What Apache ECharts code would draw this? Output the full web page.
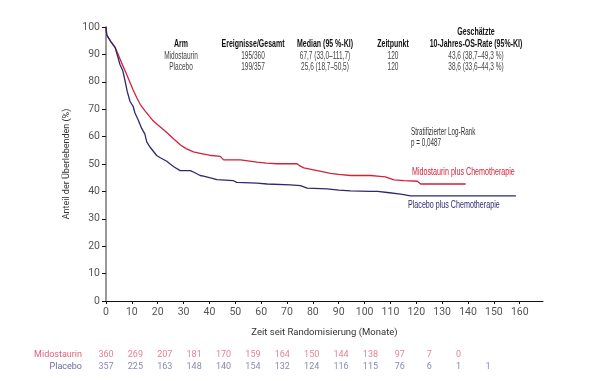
<!DOCTYPE html>
<html><head><meta charset="utf-8">
<script src="https://cdn.jsdelivr.net/npm/echarts@6/dist/echarts.min.js"></script>
<style>html,body{margin:0;padding:0;background:#fff}#c{width:595px;height:381px}</style>
</head><body><div id="c"></div>
<script>
// ---- data ----
const midoCurve = [[0,100],[0.3,97],[2,94.5],[3.5,92.6],[4.1,91.3],[6,87],[8,82.7],[10.5,77],[12,74],[13.2,71.8],[15,69.5],[18,66],[20,64.3],[23.5,61.5],[26,59.3],[28.7,57],[31,55.6],[33.8,54.4],[36.4,53.9],[40,53.2],[44.2,52.8],[45.5,51.5],[52,51.5],[58.4,50.7],[62,50.3],[66.2,50.1],[73.9,50.1],[75,49.3],[76.5,48.6],[81.7,47.6],[86.8,46.6],[90,46.2],[94.6,45.8],[102.3,45.8],[106,45.5],[108,45.3],[111.4,44.2],[115.3,43.9],[120.4,43.7],[121.7,42.7],[139.1,42.7]];
const placeboCurve = [[0,100],[0.3,97],[2,94.5],[3.5,92.6],[4.1,90.7],[5.4,86.3],[6.5,84],[7.4,80.2],[8.2,76.5],[9.3,72.8],[10.5,71],[11.2,68.6],[12.5,66],[13.8,63],[15,61],[15.8,58],[17,56.2],[19.6,53.1],[21,52.3],[23.5,51],[24.8,50],[26.5,48.8],[28.7,47.6],[32.6,47.6],[34,47],[36.4,45.8],[37.7,45.6],[40,45],[42.9,44.3],[49.3,43.9],[50.6,43.3],[58.4,43],[62.3,42.7],[71.3,42.4],[75.2,42.1],[77.8,41.2],[85.5,40.9],[90,40.5],[94.6,40.2],[102.3,40],[105,40],[108.8,39.6],[114,39],[117.8,38.4],[158.5,38.4]];
const riskRows = ['Midostaurin','Placebo'];
const riskMido = [360,269,207,181,170,159,164,150,144,138,97,7,0];
const riskPlacebo = [357,225,163,148,140,154,132,124,116,115,76,6,1,1];
const tableHeader = ['Arm','Ereignisse/Gesamt','Median (95 %-KI)','Zeitpunkt','10-Jahres-OS-Rate (95%-KI)'];
const tableHeaderTop = 'Geschätzte';
const tableMido = ['Midostaurin','195/360','67,7 (33,0–111,7)','120','43,6 (38,7–49,3 %)'];
const tablePlacebo = ['Placebo','199/357','25,6 (18,7–50,5)','120','38,6 (33,6–44,3 %)'];
const logRank = ['Stratifizierter Log-Rank','p = 0,0487'];
const curveLabels = ['Midostaurin plus Chemotherapie','Placebo plus Chemotherapie'];

// ---- style ----
const FONT = 'Roboto, "Liberation Sans", sans-serif';
const GFONT = '"Liberation Sans", Roboto, sans-serif';
const RED = '#d42139', BLUE = '#2c2a6c';
const RED_L = '#e0607a', BLUE_L = '#6b6a9e';
const colX = [181, 253, 325, 393, 476];

const graphics = [];
function txt(x, y, text, font, fill, sx, align){
  graphics.push({type:'text',x:x,y:y,scaleX:sx,style:{text:text,font:font,fill:fill,textAlign:align||'center',textVerticalAlign:'middle'}});
}
txt(colX[4], 32, tableHeaderTop, 'bold 10px '+GFONT, '#111', 0.7);
tableHeader.forEach((t,i)=>txt(colX[i], 44, t, 'bold 10px '+GFONT, '#111', 0.7));
[tableMido, tablePlacebo].forEach((row,r)=>row.forEach((t,i)=>txt(colX[i], 56+r*11.5, t, '10.5px '+GFONT, '#444', 0.62)));
logRank.forEach((t,i)=>txt(411, 132+i*11.5, t, '10.5px '+GFONT, '#333', 0.6, 'left'));
txt(412, 172, curveLabels[0], '10.5px '+GFONT, RED, 0.68, 'left');
txt(408, 205, curveLabels[1], '10.5px '+GFONT, BLUE, 0.68, 'left');

const chart = echarts.init(document.getElementById('c'), null, {renderer:'canvas'});
chart.setOption({
  animation:false,
  textStyle:{fontFamily:FONT},
  grid:[
    {left:106,right:52,top:27,bottom:80},
    {left:106,right:107,top:349,height:24}
  ],
  xAxis:[
    {gridIndex:0,type:'value',min:0,max:169,interval:10,
     name:'Zeit seit Randomisierung (Monate)',nameLocation:'middle',nameGap:27,
     nameTextStyle:{fontFamily:FONT,fontSize:9.5,color:'#333'},
     axisLine:{lineStyle:{color:'#111',width:1}},
     axisTick:{length:3,lineStyle:{color:'#111'}},
     axisLabel:{fontFamily:FONT,fontSize:10.5,color:'#555',margin:6,showMaxLabel:false},
     splitLine:{show:false}},
    {gridIndex:1,type:'value',min:0,max:13,show:false}
  ],
  yAxis:[
    {gridIndex:0,type:'value',min:0,max:100,interval:10,
     name:'Anteil der Überlebenden (%)',nameLocation:'middle',nameGap:30,
     nameTextStyle:{fontFamily:FONT,fontSize:9,color:'#333'},
     axisLine:{show:true,lineStyle:{color:'#999',width:2}},
     axisTick:{show:true,length:4,lineStyle:{color:'#111'}},
     axisLabel:{fontFamily:FONT,fontSize:10.5,color:'#555',margin:6},
     splitLine:{show:false}},
    {gridIndex:1,type:'category',data:riskRows,inverse:true,
     axisLine:{show:false},axisTick:{show:false},
     axisLabel:{interval:0,margin:24,fontFamily:FONT,fontSize:9,
       formatter:v=>v==='Midostaurin'?'{m|'+v+'}':'{p|'+v+'}',
       rich:{m:{color:RED_L,fontFamily:FONT,fontSize:9},p:{color:BLUE_L,fontFamily:FONT,fontSize:9}}}}
  ],
  series:[
    {type:'line',xAxisIndex:0,yAxisIndex:0,data:midoCurve,showSymbol:false,
     lineStyle:{color:RED,width:1.3},itemStyle:{color:RED}},
    {type:'line',xAxisIndex:0,yAxisIndex:0,data:placeboCurve,showSymbol:false,
     lineStyle:{color:BLUE,width:1.3},itemStyle:{color:BLUE}},
    {type:'scatter',xAxisIndex:1,yAxisIndex:1,symbolSize:0,
     data:riskMido.map((v,i)=>[i,'Midostaurin',v]),
     label:{show:true,position:'inside',formatter:p=>String(p.data[2]),color:RED_L,fontFamily:FONT,fontSize:9}},
    {type:'scatter',xAxisIndex:1,yAxisIndex:1,symbolSize:0,
     data:riskPlacebo.map((v,i)=>[i,'Placebo',v]),
     label:{show:true,position:'inside',formatter:p=>String(p.data[2]),color:BLUE_L,fontFamily:FONT,fontSize:9}}
  ],
  graphic:graphics
});
</script></body></html>
